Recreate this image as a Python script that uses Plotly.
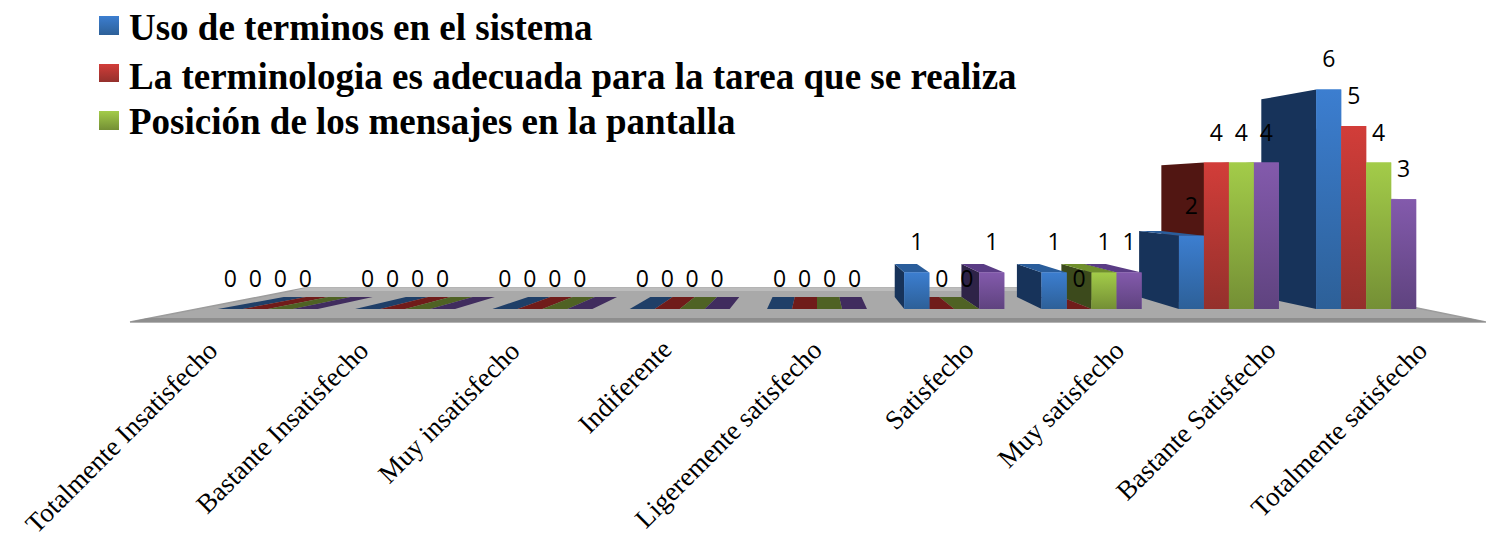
import plotly.graph_objects as go

CATEGORIAS = ["Totalmente Insatisfecho", "Bastante Insatisfecho", "Muy insatisfecho", "Indiferente",
              "Ligeremente satisfecho", "Satisfecho", "Muy satisfecho", "Bastante Satisfecho", "Totalmente satisfecho"]
NOMBRES = ["Uso de terminos en el sistema",
           "La terminologia es adecuada para la tarea que se realiza",
           "Posición de los mensajes en la pantalla",
           "Serie 4"]

uso_terminos = [0, 0, 0, 0, 0, 1, 1, 2, 6]
terminologia = [0, 0, 0, 0, 0, 0, 0, 4, 5]
posicion_mensajes = [0, 0, 0, 0, 0, 0, 1, 4, 4]
serie_cuatro = [0, 0, 0, 0, 0, 1, 1, 4, 3]
SERIES = [uso_terminos, terminologia, posicion_mensajes, serie_cuatro]

# colores: arriba / abajo del frente, lado, tapa, tapa cuando vale 0
FRENTE_ARRIBA = ["#3c7ed0", "#d23d39", "#a3cc49", "#835aac"]
FRENTE_ABAJO = ["#2d6098", "#94302c", "#748f35", "#5f437f"]
LADO = ["#17335a", "#511612", "#3c4a1c", "#2e2347"]
TAPA = ["#2a5d9b", "#8a2a26", "#6f8f2c", "#5a3c85"]
TAPA_CERO = ["#1f3f68", "#701c1a", "#4f6224", "#402c5e"]

W, H = 1486, 541
PITCH = 137.3      # px por categoria
UNIDAD = 36.6      # px por unidad de valor
BASE_Y = 309
CENTRO_X = 817
BAR = 0.182
FONDO_X = 0.89     # reduccion de la cara trasera
FONDO_Y = 0.9
VX = 4.0
VY = (BASE_Y - 189) / UNIDAD


def px_x(p):
    return VX + (p - CENTRO_X) / PITCH


def px_y(p):
    return (BASE_Y - p) / UNIDAD


def atras(x, y):
    return VX + (x - VX) * FONDO_X, VY + (y - VY) * FONDO_Y


def poligono(xs, ys, color, borde=None):
    return go.Scatter(x=xs + xs[:1], y=ys + ys[:1], mode="lines", fill="toself", fillcolor=color,
                      line=dict(width=1.5 if borde else 0, color=borde), showlegend=False, hoverinfo="skip")


def degradado(xs, ys, arriba, abajo):
    return go.Scatter(x=xs + xs[:1], y=ys + ys[:1], mode="lines", fill="toself",
                      fillgradient=dict(type="vertical", colorscale=[[0, arriba], [1, abajo]]),
                      line=dict(width=0), xaxis="x2", yaxis="y2", showlegend=False, hoverinfo="skip")


fig = go.Figure()

# ---- piso gris
piso_xs = [px_x(130), px_x(1486), px_x(1319), px_x(305)]
piso_ys = [px_y(322), px_y(322), px_y(288), px_y(288)]
fig.add_trace(poligono(piso_xs, piso_ys, "#a9a9a9", borde="#9c9c9c"))
fig.add_trace(poligono([px_x(305), px_x(1319), px_x(1330), px_x(292)],
                       [px_y(288), px_y(288), px_y(291), px_y(291)], "#bcbcbc"))
fig.add_trace(poligono([px_x(130), px_x(1486), px_x(1468), px_x(148)],
                       [px_y(322), px_y(322), px_y(318), px_y(318)], "#8e8e8e"))

# ---- caras laterales y tapas, de afuera hacia el centro
caras = []
for k, serie in enumerate(SERIES):
    for i, v in enumerate(serie):
        x0 = i - 2 * BAR + k * BAR
        caras.append((abs(x0 + BAR / 2 - VX), k, x0, v))
caras.sort(key=lambda c: -c[0])

for _, k, x0, v in caras:
    x1 = x0 + BAR
    if v > 0:
        borde = x0 if x0 > VX else x1
        bx, by0 = atras(borde, 0)
        _, byv = atras(borde, v)
        fig.add_trace(poligono([borde, borde, bx, bx], [0, v, byv, by0], LADO[k]))
    if v < VY:
        bx0, by = atras(x0, v)
        bx1, _ = atras(x1, v)
        fig.add_trace(poligono([x0, x1, bx1, bx0], [v, v, by, by], TAPA[k] if v > 0 else TAPA_CERO[k]))

# ---- frentes: barras agrupadas sobre el eje superpuesto
posiciones = list(range(len(CATEGORIAS)))
for k, serie in enumerate(SERIES):
    fig.add_trace(go.Bar(x=posiciones, y=serie, name=NOMBRES[k], marker=dict(color=FRENTE_ARRIBA[k], line_width=0),
                         xaxis="x2", yaxis="y2", showlegend=False))

for k, serie in enumerate(SERIES):
    for i, v in enumerate(serie):
        if v > 0:
            x0 = i - 2 * BAR + k * BAR
            fig.add_trace(degradado([x0, x0 + BAR, x0 + BAR, x0], [0, 0, v, v], FRENTE_ABAJO[k], FRENTE_ARRIBA[k]))

# ---- etiquetas de valor
for k, serie in enumerate(SERIES):
    fig.add_trace(go.Scatter(x=[i - 2 * BAR + (k + 0.5) * BAR for i in posiciones], y=[v + 0.76 for v in serie],
                             mode="text", text=[str(v) for v in serie], textposition="middle center",
                             textfont=dict(family="Open Sans", size=23, color="black"),
                             xaxis="x2", yaxis="y2", showlegend=False, hoverinfo="skip"))

# ---- leyenda (solo se ven tres series)
for k, (p_arriba, p_abajo, p_texto) in enumerate([(16, 35, 28), (64, 82, 76), (111, 130, 122)]):
    fig.add_trace(degradado([px_x(99), px_x(119), px_x(119), px_x(99)],
                            [px_y(p_abajo), px_y(p_abajo), px_y(p_arriba), px_y(p_arriba)],
                            FRENTE_ABAJO[k], FRENTE_ARRIBA[k]))
    fig.add_annotation(text=f"<b>{NOMBRES[k]}</b>", xref="paper", yref="paper", x=127 / W, y=1 - p_texto / H,
                       xanchor="left", yanchor="middle", showarrow=False,
                       font=dict(family="Liberation Serif", size=37, color="black"))

# ---- categorias giradas
for i, cat in enumerate(CATEGORIAS):
    fig.add_annotation(text=cat, xref="paper", yref="paper", x=(226 + 151.25 * i) / W, y=1 - 332 / H,
                       xanchor="right", yanchor="top", textangle=-45, showarrow=False,
                       font=dict(family="Liberation Serif", size=27, color="black"))

rango_x = [px_x(0), px_x(W)]
rango_y = [px_y(H), px_y(0)]
fig.update_layout(
    width=W, height=H,
    margin=dict(l=0, r=0, t=0, b=0),
    paper_bgcolor="white", plot_bgcolor="white",
    barmode="group", bargap=1 - 4 * BAR, bargroupgap=0,
    hovermode=False, showlegend=False,
    xaxis=dict(range=rango_x, visible=False),
    yaxis=dict(range=rango_y, visible=False),
    xaxis2=dict(range=rango_x, visible=False, overlaying="x"),
    yaxis2=dict(range=rango_y, visible=False, overlaying="y"),
)

fig.write_html("out.html", config=dict(displayModeBar=False),
               post_script="document.body.style.margin='0';document.body.style.overflow='hidden';")
